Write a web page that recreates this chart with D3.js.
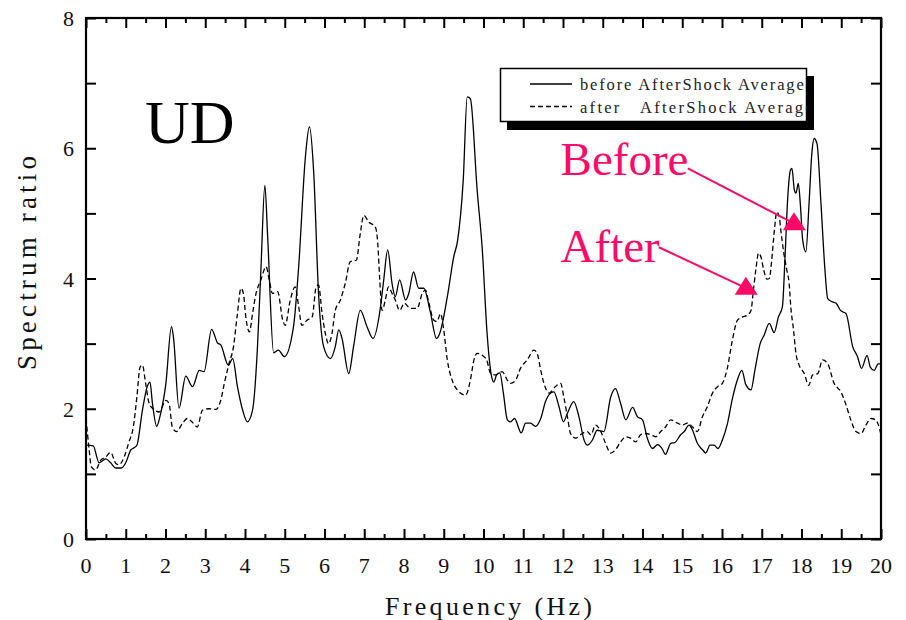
<!DOCTYPE html>
<html>
<head>
<meta charset="utf-8">
<script src="https://cdn.jsdelivr.net/npm/d3@7"></script>
<style>
  body { margin: 0; background: #fff; }
  svg { display: block; }
  .serif { font-family: "Liberation Serif", "Times New Roman", serif; }
</style>
</head>
<body>
<svg id="chart" width="906" height="620"></svg>
<script>
// frequency (Hz) / spectrum ratio
var beforeFreq = [0,0.18,0.33,0.5,0.62,0.75,0.89,1,1.13,1.21,1.28,1.42,1.54,1.61,1.67,1.78,1.86,2.01,2.15,2.2,
  2.34,2.51,2.68,2.85,2.97,3.16,3.31,3.39,3.58,3.69,3.81,3.94,4.06,4.19,4.31,4.4,4.5,4.57,4.72,4.84,
  4.99,5.22,5.35,5.52,5.62,5.73,5.85,5.98,6.15,6.27,6.36,6.44,6.61,6.73,6.9,7.07,7.22,7.41,7.49,7.59,
  7.7,7.78,7.89,8.04,8.12,8.24,8.37,8.5,8.66,8.82,8.9,9.09,9.25,9.35,9.49,9.59,9.67,9.84,9.97,10.09,
  10.19,10.26,10.33,10.41,10.5,10.6,10.68,10.78,10.95,11.06,11.18,11.31,11.44,11.56,11.69,11.77,11.9,12.01,12.11,12.27,
  12.4,12.53,12.61,12.74,12.86,13.03,13.2,13.32,13.45,13.58,13.75,13.87,14,14.12,14.25,14.38,14.48,14.58,14.71,14.81,
  14.96,15.05,15.17,15.26,15.38,15.51,15.59,15.7,15.8,15.9,16.01,16.14,16.26,16.39,16.5,16.6,16.73,16.83,16.96,17.06,
  17.19,17.31,17.42,17.52,17.59,17.65,17.72,17.76,17.82,17.86,17.92,17.97,18.03,18.11,18.19,18.26,18.32,18.39,18.49,18.59,
  18.66,18.78,18.87,18.98,19.12,19.29,19.41,19.51,19.65,19.73,19.83,19.93,20];
var beforeRatio = [1.44,1.43,1.17,1.23,1.17,1.09,1.09,1.17,1.37,1.4,1.44,1.98,2.34,2.41,2.09,1.73,1.88,2.39,3.26,3.1,
  2.01,2.5,2.34,2.59,2.57,3.22,3.01,2.98,2.67,2.77,2.34,1.98,1.8,1.98,2.9,4.13,5.43,4.64,2.86,2.9,
  2.8,3.26,4.18,5.87,6.33,5.61,3.77,2.95,2.77,2.95,3.21,3.08,2.54,2.95,3.51,3.26,3.08,3.57,3.98,4.44,
  3.92,3.72,3.98,3.67,3.77,4.1,3.85,3.85,3.49,3.08,3.16,3.72,4.33,4.59,5.51,6.79,6.76,5.36,4.44,3.16,
  2.54,2.41,2.52,2.55,2.24,1.83,1.8,1.85,1.63,1.78,1.78,1.73,1.85,2.11,2.24,2.26,2.03,1.8,1.93,2.11,
  1.88,1.52,1.44,1.52,1.67,1.65,2.18,2.31,2.08,1.83,2.02,1.88,1.83,1.55,1.39,1.45,1.4,1.3,1.47,1.48,
  1.6,1.65,1.75,1.67,1.47,1.37,1.32,1.44,1.44,1.39,1.52,1.78,2.15,2.45,2.59,2.37,2.29,2.6,3,3.13,
  3.31,3.17,3.41,3.57,4.39,5.2,5.66,5.69,5.36,5.31,5.46,5.15,4.59,4.41,5.15,5.92,6.15,6.07,5.15,4.13,
  3.69,3.64,3.62,3.51,3.46,2.95,2.8,2.62,2.82,2.64,2.59,2.69,2.69];

var afterFreq = [0,0.08,0.13,0.24,0.37,0.5,0.62,0.75,0.83,0.96,1.08,1.19,1.28,1.36,1.42,1.5,1.59,1.71,1.84,2.01,
  2.09,2.17,2.28,2.43,2.55,2.68,2.8,2.93,3.1,3.27,3.39,3.48,3.6,3.71,3.8,3.9,3.96,4.02,4.11,4.19,
  4.27,4.4,4.53,4.61,4.69,4.82,4.95,5.01,5.14,5.26,5.35,5.43,5.56,5.69,5.79,5.85,5.94,6.02,6.1,6.19,
  6.27,6.4,6.52,6.65,6.8,6.9,6.99,7.11,7.28,7.34,7.39,7.45,7.53,7.61,7.7,7.78,7.89,8.01,8.16,8.33,
  8.46,8.54,8.62,8.75,8.83,8.92,9,9.09,9.21,9.34,9.55,9.67,9.76,9.84,10.01,10.08,10.18,10.3,10.47,10.6,
  10.68,10.81,10.93,11.1,11.27,11.35,11.44,11.52,11.65,11.81,11.94,12.02,12.11,12.19,12.32,12.44,12.61,12.7,12.82,12.95,
  13.07,13.2,13.32,13.45,13.58,13.7,13.83,13.95,14.08,14.21,14.33,14.46,14.58,14.71,14.88,15.01,15.13,15.26,15.38,15.51,
  15.63,15.76,15.89,16.01,16.14,16.26,16.39,16.52,16.64,16.73,16.79,16.85,16.92,16.98,17.05,17.13,17.19,17.25,17.31,17.38,
  17.44,17.48,17.55,17.63,17.69,17.73,17.8,17.86,17.94,18.07,18.18,18.28,18.41,18.53,18.66,18.82,18.99,19.12,19.24,19.37,
  19.5,19.62,19.75,19.86,19.96,20];
var afterRatio = [1.85,1.37,1.11,1.06,1.21,1.26,1.33,1.16,1.14,1.26,1.49,1.72,2.18,2.64,2.67,2.39,2.08,1.99,1.95,2.13,
  2.08,1.72,1.65,1.78,1.85,1.79,1.72,1.98,2,1.99,2.13,2.39,2.7,2.95,3.41,3.85,3.77,3.41,3.18,3.46,
  3.75,3.98,4.18,3.98,3.77,3.8,3.36,3.28,3.67,3.87,3.57,3.28,3.36,3.41,3.87,3.9,3.46,3.16,3,3.16,
  3.51,3.67,3.92,4.26,4.28,4.69,4.97,4.87,4.79,4.54,3.98,3.51,3.67,3.87,3.77,3.67,3.51,3.62,3.54,3.54,
  3.77,3.82,3.64,3.36,3.34,3.46,3.21,2.75,2.44,2.29,2.21,2.44,2.75,2.85,2.8,2.75,2.54,2.52,2.57,2.44,
  2.39,2.44,2.62,2.75,2.9,2.85,2.59,2.39,2.24,2.34,2.39,2.18,1.88,1.62,1.55,1.6,1.65,1.6,1.75,1.65,
  1.47,1.32,1.37,1.49,1.57,1.55,1.49,1.6,1.62,1.6,1.57,1.65,1.72,1.83,1.78,1.75,1.78,1.72,1.65,1.88,
  2.03,2.24,2.34,2.39,2.64,3.05,3.36,3.41,3.44,3.51,3.82,4.13,4.39,4.33,4.13,3.99,4,4.28,4.69,5.02,
  4.95,4.74,4.41,4.13,3.92,3.57,3.21,2.85,2.67,2.54,2.36,2.52,2.54,2.75,2.69,2.39,2.26,2.06,1.83,1.65,
  1.62,1.75,1.85,1.83,1.7,1.6];

var xTickLabels = ["0","1","2","3","4","5","6","7","8","9","10","11","12","13","14","15","16","17","18","19","20"];
var yTickLabels = ["0","2","4","6","8"];
var seriesNames = ["before AfterShock Average", "after   AfterShock Average"];
var annoText = ["Before", "After"];
// label anchor, arrow start, arrow tip in data units [Hz, ratio]
var annoLabelAt = [[11.94, 5.59], [11.94, 4.25]];
var annoFrom = [[15.14, 5.69], [14.41, 4.48]];
var annoTo = [[18.11, 4.74], [16.9, 3.75]];

var W = 906, H = 620;
var m = {left: 86, right: 25, top: 18, bottom: 81};
var svg = d3.select("#chart");

var x = d3.scaleLinear().domain([0, 20]).range([m.left, W - m.right]);
var y = d3.scaleLinear().domain([0, 8]).range([H - m.bottom, m.top]);

svg.append("rect").attr("width", W).attr("height", H).attr("fill", "#fff");

//curves
var line = d3.line().x(function(d){ return x(d[0]); }).y(function(d){ return y(d[1]); }).curve(d3.curveMonotoneX);
var before = beforeFreq.map(function(f, i){ return [f, beforeRatio[i]]; });
var after = afterFreq.map(function(f, i){ return [f, afterRatio[i]]; });

svg.append("path").datum(after).attr("d", line)
  .attr("fill", "none").attr("stroke", "#000").attr("stroke-width", 1.3).attr("stroke-dasharray", "5,3");
svg.append("path").datum(before).attr("d", line)
  .attr("fill", "none").attr("stroke", "#000").attr("stroke-width", 1.3);

//axes, ticks pointing inward
var xMajor = d3.range(0, 21, 1), xMinor = d3.range(0.5, 20, 1), yMajor = d3.range(0, 9, 1);
function ax(gen, vals, size, tx, ty){
  var g = svg.append("g").attr("transform", "translate(" + tx + "," + ty + ")")
    .call(gen.tickValues(vals).tickSize(size).tickFormat(""));
  g.select(".domain").remove();
  g.selectAll("line").attr("stroke", "#000").attr("stroke-width", 2);
  return g;
}
ax(d3.axisBottom(x), xMajor, -10, 0, y(0));
ax(d3.axisBottom(x), xMinor, -5, 0, y(0));
ax(d3.axisTop(x), xMajor, -10, 0, y(8));
ax(d3.axisTop(x), xMinor, -5, 0, y(8));
ax(d3.axisLeft(y), yMajor, -10, x(0), 0);
ax(d3.axisRight(y), yMajor, -10, x(20), 0);

svg.append("rect").attr("x", x(0)).attr("y", y(8)).attr("width", x(20) - x(0)).attr("height", y(0) - y(8))
  .attr("fill", "none").attr("stroke", "#000").attr("stroke-width", 2.2);

//tick labels
svg.selectAll(".xl").data(xTickLabels).enter().append("text")
  .attr("class", "serif xl")
  .attr("x", function(d){ return x(+d); }).attr("y", y(0) + 34)
  .attr("text-anchor", "middle").attr("font-size", 22).attr("fill", "#111").text(function(d){ return d; });
svg.selectAll(".yl").data(yTickLabels).enter().append("text")
  .attr("class", "serif yl")
  .attr("x", x(0) - 12).attr("y", function(d){ return y(+d) + 8; })
  .attr("text-anchor", "end").attr("font-size", 22).attr("fill", "#111").text(function(d){ return d; });

svg.append("text").attr("class", "serif")
  .attr("x", 385).attr("y", 615).attr("font-size", 26).attr("fill", "#111")
  .attr("textLength", 207).attr("lengthAdjust", "spacing").text("Frequency (Hz)");
svg.append("text").attr("class", "serif")
  .attr("transform", "translate(36,370) rotate(-90)")
  .attr("font-size", 27).attr("fill", "#111")
  .attr("textLength", 214).attr("lengthAdjust", "spacing").text("Spectrum ratio");

//UD label
svg.append("text").attr("class", "serif").attr("x", 145).attr("y", 143)
  .attr("font-size", 62).text("UD");

//legend with drop shadow
var lg = svg.append("g");
lg.append("rect").attr("x", 507).attr("y", 76).attr("width", 307).attr("height", 54).attr("fill", "#000");
lg.append("rect").attr("x", 500.5).attr("y", 68.5).attr("width", 306).attr("height", 53)
  .attr("fill", "#fff").attr("stroke", "#000").attr("stroke-width", 1.5);
seriesNames.forEach(function(name, i){
  var ly = 84 + i * 22.5;
  lg.append("line").attr("x1", 530).attr("x2", 572).attr("y1", ly).attr("y2", ly)
    .attr("stroke", "#000").attr("stroke-width", 1.3).attr("stroke-dasharray", i ? "5,3" : null);
  lg.append("text").attr("class", "serif").attr("x", 580).attr("y", ly + 6)
    .attr("font-size", 16.5).attr("fill", "#222").style("white-space", "pre")
    .attr("textLength", name.length * 8.95).attr("lengthAdjust", "spacing").text(name);
});
// right shadow over overflowing text
lg.append("rect").attr("x", 807).attr("y", 76).attr("width", 7).attr("height", 54).attr("fill", "#000");

//annotations
var pink = "#ff0a68";
annoText.forEach(function(t, i){
  svg.append("text").attr("class", "serif").attr("x", x(annoLabelAt[i][0])).attr("y", y(annoLabelAt[i][1]))
    .attr("font-size", 47).attr("fill", pink).text(t);
  var tx = x(annoTo[i][0]), ty = y(annoTo[i][1]);
  svg.append("line").attr("x1", x(annoFrom[i][0])).attr("y1", y(annoFrom[i][1]))
    .attr("x2", tx - 8).attr("y2", ty - 5).attr("stroke", pink).attr("stroke-width", 2);
  svg.append("path").attr("d", "M" + tx + "," + ty + " L" + (tx - 23) + "," + ty + " L" + (tx - 12) + "," + (ty - 18) + " Z")
    .attr("fill", pink);
});
</script>
</body>
</html>
